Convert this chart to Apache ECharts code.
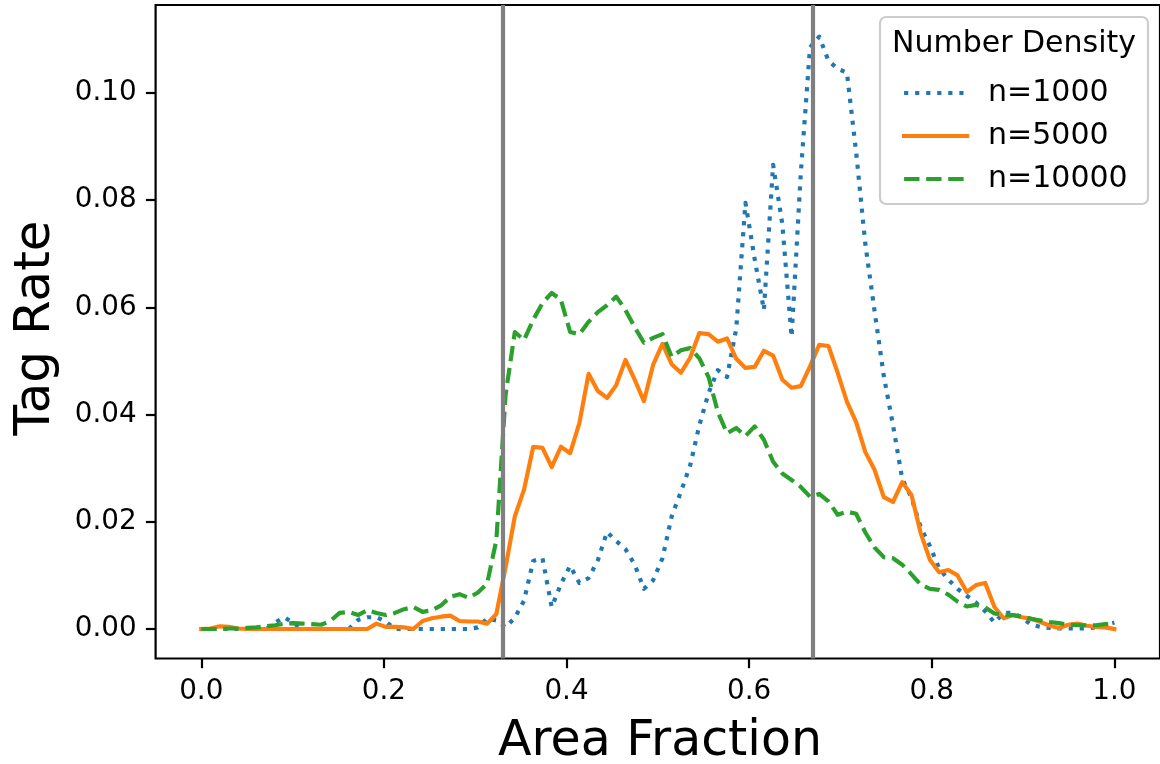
<!DOCTYPE html>
<html>
<head>
<meta charset="utf-8">
<script src="https://cdn.jsdelivr.net/npm/echarts@6/dist/echarts.min.js"></script>
<style>html,body{margin:0;padding:0;background:#fff;}#c{width:1160px;height:764px;}</style>
</head>
<body>
<div id="c"></div>
<script>
// Area fraction sample positions (100 points from 0 to 1)
const areaFraction = [
  0, 0.0101, 0.0202, 0.0303, 0.0404, 0.0505, 0.0606, 0.0707, 0.0808, 0.0909,
  0.1010, 0.1111, 0.1212, 0.1313, 0.1414, 0.1515, 0.1616, 0.1717, 0.1818, 0.1919,
  0.2020, 0.2121, 0.2222, 0.2323, 0.2424, 0.2525, 0.2626, 0.2727, 0.2828, 0.2929,
  0.3030, 0.3131, 0.3232, 0.3333, 0.3434, 0.3535, 0.3636, 0.3737, 0.3838, 0.3939,
  0.4040, 0.4141, 0.4242, 0.4343, 0.4444, 0.4545, 0.4646, 0.4747, 0.4848, 0.4949,
  0.5051, 0.5152, 0.5253, 0.5354, 0.5455, 0.5556, 0.5657, 0.5758, 0.5859, 0.5960,
  0.6061, 0.6162, 0.6263, 0.6364, 0.6465, 0.6566, 0.6667, 0.6768, 0.6869, 0.6970,
  0.7071, 0.7172, 0.7273, 0.7374, 0.7475, 0.7576, 0.7677, 0.7778, 0.7879, 0.7980,
  0.8081, 0.8182, 0.8283, 0.8384, 0.8485, 0.8586, 0.8687, 0.8788, 0.8889, 0.8990,
  0.9091, 0.9192, 0.9293, 0.9394, 0.9495, 0.9596, 0.9697, 0.9798, 0.9899, 1.0
];
const rateN1000 = [
  0, 0, 0, 0, 0, 0, 0, 0, 0.0012, 0.0022,
  0.0011, 0, 0, 0, 0, 0, 0, 0.0017, 0.0022, 0.0022,
  0.0014, 0, 0, 0, 0, 0, 0, 0, 0, 0,
  0.0003, 0.002, 0.0016, 0.0003, 0.0021, 0.0053, 0.0127, 0.0132, 0.0041, 0.0084,
  0.0118, 0.0086, 0.0095, 0.0128, 0.0181, 0.0164, 0.0149, 0.012, 0.0075, 0.0091,
  0.0132, 0.021, 0.0256, 0.0305, 0.038, 0.044, 0.0483, 0.047, 0.056, 0.0795,
  0.069, 0.0595, 0.0866, 0.0755, 0.0545, 0.085, 0.1085, 0.1105, 0.106, 0.1045,
  0.1038, 0.089, 0.0718, 0.0593, 0.0472, 0.038, 0.028, 0.0245, 0.019, 0.0155,
  0.0113, 0.0092, 0.0075, 0.0062, 0.0049, 0.0033, 0.0012, 0.003, 0.003, 0.0021,
  0.0008, 0.0004, 0.0002, 0.0001, 0.0001, 0.0001, 0.0001, 0.0003, 0.0007, 0.0012
];
const rateN5000 = [
  0, 0.0001, 0.0005, 0.0004, 0.0001, 0, 0, 0, 0, 0,
  0, 0, 0, 0, 0, 0, 0, 0, 0, 0.001,
  0.0004, 0.0004, 0.0003, 0, 0.0015, 0.002, 0.0023, 0.0025, 0.0015, 0.0014,
  0.0014, 0.001, 0.0028, 0.0115, 0.021, 0.026, 0.034, 0.0338, 0.0302, 0.034,
  0.0328, 0.0384, 0.0476, 0.0444, 0.0431, 0.0455, 0.0502, 0.0465, 0.0425, 0.0493,
  0.0532, 0.0494, 0.0478, 0.0506, 0.0552, 0.055, 0.0536, 0.0542, 0.0504, 0.0487,
  0.0489, 0.0519, 0.051, 0.0465, 0.045, 0.0453, 0.049, 0.053, 0.0528, 0.0478,
  0.0424, 0.0386, 0.033, 0.0297, 0.0246, 0.0237, 0.0274, 0.025, 0.0179, 0.0129,
  0.0106, 0.011, 0.010, 0.0069, 0.0082, 0.0086, 0.0041, 0.002, 0.0026, 0.0022,
  0.0019, 0.0013, 0.0006, 0.0002, 0.0008, 0.001, 0.0006, 0.0004, 0.0003, 0
];
const rateN10000 = [
  0, 0, 0, 0.0001, 0.0001, 0.0002, 0.0003, 0.0005, 0.0007, 0.001,
  0.0011, 0.001, 0.0009, 0.0008, 0.0015, 0.003, 0.0032, 0.0026, 0.0035, 0.003,
  0.0026, 0.003, 0.0037, 0.0041, 0.0032, 0.0035, 0.0044, 0.006, 0.0065, 0.0058,
  0.0068, 0.0085, 0.0166, 0.0437, 0.0554, 0.0539, 0.0577, 0.0608, 0.0627, 0.0614,
  0.0554, 0.055, 0.0573, 0.0591, 0.0604, 0.062, 0.0595, 0.0563, 0.0534, 0.0543,
  0.055, 0.0508, 0.052, 0.0524, 0.0505, 0.047, 0.0405, 0.0365, 0.0375, 0.036,
  0.0378, 0.0353, 0.0312, 0.029, 0.0278, 0.0265, 0.0247, 0.0252, 0.0238, 0.0213,
  0.0219, 0.0215, 0.018, 0.0152, 0.0134, 0.0132, 0.012, 0.0102, 0.0083, 0.0075,
  0.0073, 0.0064, 0.0051, 0.0042, 0.0045, 0.004, 0.0029, 0.0026, 0.0026, 0.0023,
  0.0019, 0.0016, 0.0013, 0.0011, 0.0008, 0.0007, 0.0007, 0.0007, 0.0009, 0.001
];
const seriesNames = ['n=1000', 'n=5000', 'n=10000'];
const thresholds = [0.33, 0.67];
const xTicks = [0.0, 0.2, 0.4, 0.6, 0.8, 1.0];
const yTicks = [0.00, 0.02, 0.04, 0.06, 0.08, 0.10];
const legendTitle = 'Number Density';
const xTitle = 'Area Fraction';
const yTitle = 'Tag Rate';

const FONT = 'DejaVu Sans';
const LW = 4.17;
function pairs(ys) { return areaFraction.map((x, i) => [x, ys[i]]); }

const chart = echarts.init(document.getElementById('c'), null, {renderer: 'canvas'});
chart.setOption({
  animation: false,
  backgroundColor: '#ffffff',
  grid: {
    left: 155.6, top: 5, width: 1008.7, height: 653.5,
    show: true, borderColor: '#000', borderWidth: 2.2, backgroundColor: 'transparent'
  },
  xAxis: {
    type: 'value', min: -0.05, max: 1.05,
    axisLine: {show: false, onZero: false},
    splitLine: {show: false},
    axisTick: {show: true, inside: false, length: 9.7, customValues: xTicks, lineStyle: {color: '#000', width: 2.2}},
    axisLabel: {show: true, customValues: xTicks, margin: 19, fontFamily: FONT, fontSize: 27.8, color: '#000',
      formatter: v => Number(v).toFixed(1)}
  },
  yAxis: {
    type: 'value', min: -0.0055, max: 0.1164,
    axisLine: {show: false, onZero: false},
    splitLine: {show: false},
    axisTick: {show: true, inside: false, length: 9.7, customValues: yTicks, lineStyle: {color: '#000', width: 2.2}},
    axisLabel: {show: true, customValues: yTicks, margin: 19, fontFamily: FONT, fontSize: 27.8, color: '#000',
      formatter: v => Number(v).toFixed(2)}
  },
  legend: {
    data: seriesNames,
    orient: 'vertical',
    left: 897, top: 73,
    itemWidth: 63, itemHeight: 14, itemGap: 13,
    selectedMode: false,
    itemStyle: {opacity: 0},
    lineStyle: {width: LW},
    textStyle: {fontFamily: FONT, fontSize: 30, color: '#000', padding: [0, 0, 0, 16]},
    z: 10
  },
  graphic: [
    {type: 'rect', z: 8, shape: {x: 880, y: 17, width: 268, height: 187, r: 6},
     style: {fill: 'rgba(255,255,255,0.8)', stroke: '#cccccc', lineWidth: 2.2}},
    {type: 'text', z: 11, x: 1014, y: 44, style: {text: legendTitle, font: '30px "DejaVu Sans"', fill: '#000', textAlign: 'center', textVerticalAlign: 'middle'}},
    {type: 'text', z: 11, x: 660, y: 742, style: {text: xTitle, font: '49px "DejaVu Sans"', fill: '#000', textAlign: 'center', textVerticalAlign: 'middle'}},
    {type: 'text', z: 11, x: 36, y: 328, rotation: Math.PI / 2, style: {text: yTitle, font: '50px "DejaVu Sans"', fill: '#000', textAlign: 'center', textVerticalAlign: 'middle'}}
  ],
  series: [
    {
      name: '_thresholds', type: 'line', data: [], silent: true, z: 1,
      markLine: {
        silent: true, symbol: ['none', 'none'], animation: false,
        label: {show: false},
        lineStyle: {color: '#808080', width: 4.2, type: 'solid'},
        emphasis: {disabled: true},
        data: thresholds.map(v => ({xAxis: v}))
      }
    },
    {
      name: seriesNames[0], type: 'line', data: pairs(rateN1000), showSymbol: false, symbol: 'none', z: 2,
      lineStyle: {color: '#1f77b4', width: LW, type: [4.17, 6.88], cap: 'butt', join: 'round'},
      itemStyle: {color: '#1f77b4'}, emphasis: {disabled: true}
    },
    {
      name: seriesNames[1], type: 'line', data: pairs(rateN5000), showSymbol: false, symbol: 'none', z: 3,
      lineStyle: {color: '#ff7f0e', width: LW, type: 'solid', cap: 'square', join: 'round'},
      itemStyle: {color: '#ff7f0e'}, emphasis: {disabled: true}
    },
    {
      name: seriesNames[2], type: 'line', data: pairs(rateN10000), showSymbol: false, symbol: 'none', z: 4,
      lineStyle: {color: '#2ca02c', width: LW, type: [15.4, 6.67], cap: 'butt', join: 'round'},
      itemStyle: {color: '#2ca02c'}, emphasis: {disabled: true}
    }
  ]
});
</script>
</body>
</html>
